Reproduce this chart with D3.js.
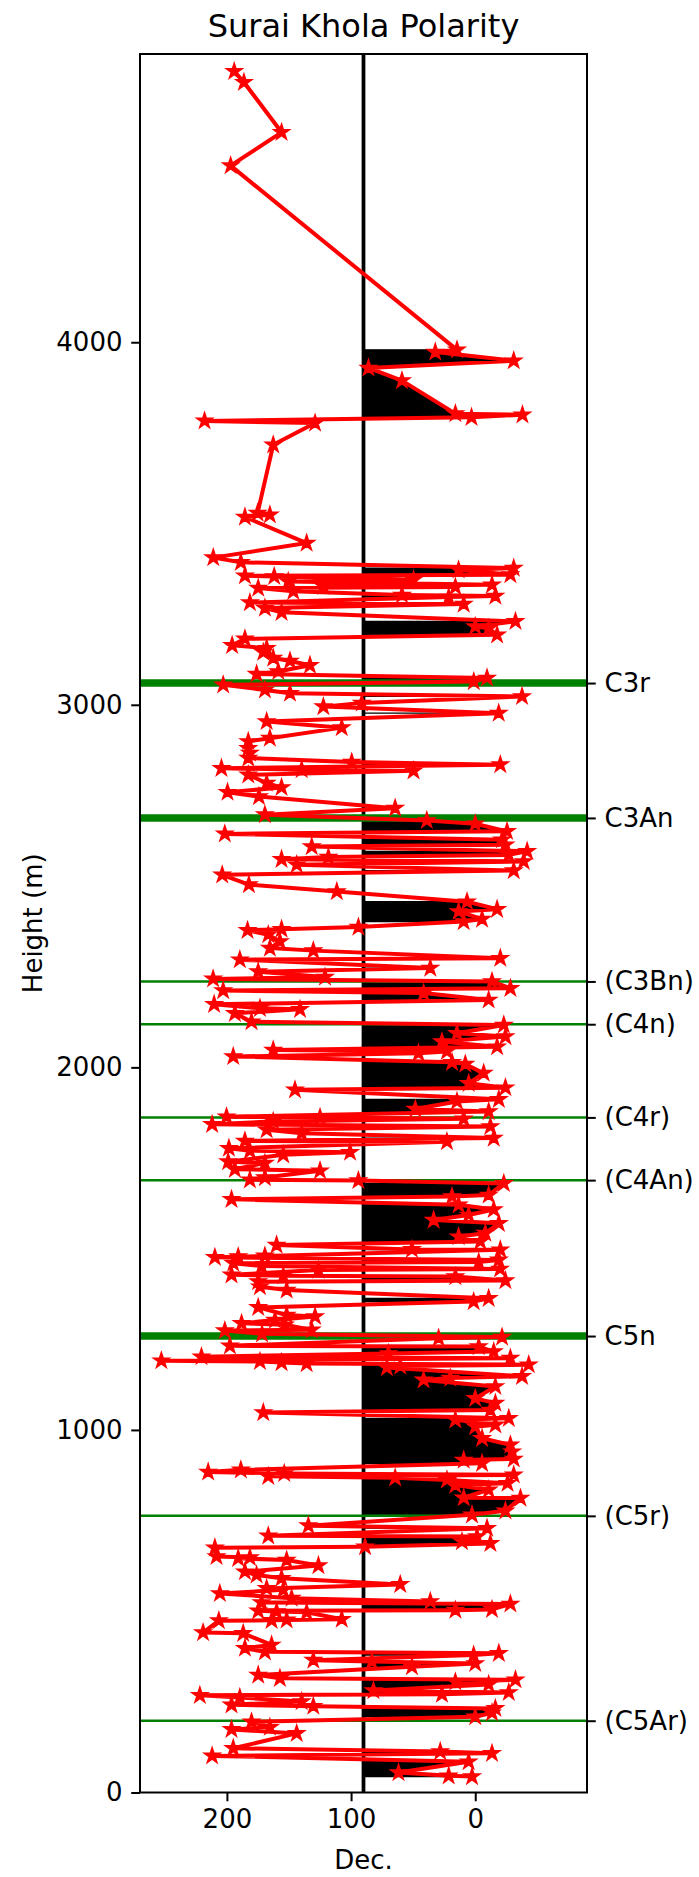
<!DOCTYPE html>
<html>
<head>
<meta charset="utf-8">
<script src="https://cdn.jsdelivr.net/npm/d3@7"></script>
<style>
  body { margin: 0; background: #fff; }
  svg { display: block; }
  text { font-family: "DejaVu Sans", sans-serif; fill: #000; }
</style>
</head>
<body>
<svg id="chart" width="699" height="1877"></svg>
<script>
// Stratigraphic height of each sample (m), bottom to top
const height = [
  44, 46, 55, 85, 101, 108, 113, 122, 163, 174, 180, 195, 209, 220, 232, 238, 242, 251, 262, 268,
  271, 276, 281, 298, 305, 311, 315, 324, 347, 356, 361, 365, 379, 384, 388, 398, 407, 439, 441, 474,
  475, 476, 478, 497, 499, 501, 503, 505, 520, 524, 527, 536, 549, 559, 563, 574, 591, 600, 609, 626,
  641, 646, 648, 651, 675, 678, 687, 692, 706, 708, 729, 736, 766, 777, 812, 813, 835, 848, 853, 862,
  868, 872, 876, 880, 884, 890, 908, 917, 920, 940, 959, 977, 1009, 1014, 1028, 1032, 1048, 1055, 1074, 1087,
  1120, 1138, 1143, 1148, 1172, 1176, 1180, 1183, 1186, 1189, 1191, 1198, 1202, 1211, 1216, 1230, 1232, 1253, 1256, 1265,
  1274, 1276, 1290, 1294, 1303, 1313, 1317, 1338, 1354, 1363, 1386, 1395, 1409, 1412, 1423, 1425, 1428, 1441, 1444, 1452,
  1460, 1463, 1469, 1476, 1478, 1480, 1497, 1498, 1510, 1520, 1533, 1543, 1570, 1579, 1593, 1608, 1621, 1636, 1644, 1648,
  1680, 1688, 1690, 1696, 1715, 1719, 1736, 1740, 1759, 1766, 1770, 1777, 1795, 1797, 1805, 1818, 1828, 1837, 1843, 1851,
  1858, 1862, 1864, 1878, 1885, 1906, 1912, 1938, 1944, 1956, 1984, 2009, 2014, 2030, 2039, 2044, 2048, 2057, 2071, 2085,
  2094, 2117, 2126, 2149, 2160, 2163, 2174, 2186, 2205, 2212, 2218, 2237, 2244, 2249, 2264, 2274, 2297, 2301, 2322, 2329,
  2347, 2366, 2378, 2381, 2387, 2402, 2409, 2430, 2436, 2457, 2485, 2504, 2531, 2543, 2559, 2568, 2574, 2580, 2586, 2596,
  2609, 2614, 2628, 2644, 2651, 2672, 2681, 2697, 2715, 2747, 2759, 2772, 2784, 2807, 2818, 2821, 2825, 2835, 2842, 2853,
  2867, 2880, 2899, 2908, 2937, 2954, 2977, 2995, 3005, 3023, 3032, 3041, 3055, 3064, 3074, 3085, 3092, 3109, 3121, 3129,
  3145, 3156, 3164, 3182, 3193, 3211, 3216, 3230, 3255, 3267, 3278, 3282, 3297, 3300, 3303, 3313, 3322, 3325, 3327, 3331,
  3340, 3345, 3354, 3356, 3359, 3372, 3377, 3393, 3406, 3446, 3518, 3524, 3529, 3717, 3777, 3783, 3793, 3800, 3803, 3894,
  3929, 3949, 3973, 3979, 4487, 4579, 4717, 4747
];

// Declination of each sample (degrees)
const dec = [
  2.6, 21.4, 61.8, 5.3, 211.9, -13.5, 28.2, 194.9, 143.8, 196.3, 165.4, 180.2, 0, -13.5, -16.2, 130.4, 196.3, 139.8, 189.6, 221.8,
  26.8, -27, 82, -10.8, 16, -32.4, 157.3, 174.8, 51, 0, 83.3, 130.4, 1.3, -19, 169.4, 185.5, 164, 186.9, 219.2, 206.5,
  164, 151.9, 107.5, 135.8, 160, 174.8, 16, -13.5, -28.3, 172.1, 36.2, 147.9, 205.7, 154.6, 168, 60.4, 156, 176.1, 185.5, 126.3,
  151.9, 190.9, 181.5, 208.4, 209.7, 88.7, -12.2, 10.7, -1.4, 166.7, -9.5, 134.4, 2.6, -24.3, -36.4, 9.3, -10.8, 16, -26, 22.8,
  64.5, 166.7, -31, 153.8, 215.1, 188.8, -5.5, 9.3, -31, -29.7, -28.3, -5.5, 0, -16.2, 16, -27, 170.7, -12.2, -16.2, 0,
  -16.2, 41.6, 20.1, -37.7, 71.2, 60.4, -43.1, 135.8, 156, 173.4, 252.8, -28.3, 220.5, 69.9, -14.9, -2.8, 197.6, 29.5, -21.6, 171.7,
  201.7, 131.7, 153.3, 188.2, 161.3, 129, 151.9, 174.8, 1.3, -10.8, 151.9, 173.4, 174.8, -24.3, 16, 154.6, 196.3, 126.3, -20, 172.1,
  194.9, -2.8, -19, 209.7, 190.9, 169.4, -20.2, 51, 160, -4.1, 13.4, -8.1, -19, 33.5, 5.3, -14.9, 13.4, 196.3, 18.7, -10.8,
  -23, 94.1, 181.5, 169.4, 125, 193.6, 169.4, 199, 154.6, 100.8, 181.5, 198.4, 22.8, 185.5, -14.9, 139.8, 168, -12.2, 211.9, 162.7,
  9.3, 125, 200.3, -10.8, 48.3, 14.7, -19, 145.2, -24.3, 5.3, -6.8, 8, 18.7, 194.9, 45.7, 22.8, 162.7, -17.6, 26.8, -24.3,
  14.7, -23, 180.2, 193.6, 141.1, 173.4, 210.3, -10.8, 41.6, 203, -28.3, -13.5, 211.1, 121, 174.8, 36.2, 189.6, -20.2, 130.4, 165.4,
  157.3, 166.7, 183.4, 156, 94.1, 9.3, -5.5, 13.4, -17.6, 6.6, 111.5, 182.3, 203.8, -31, 143.8, -39, 156, 118.3, -27, -41.8,
  131.7, -24.3, -21.6, 201.7, -25.6, 0, 39, 169.4, 64.5, 174.2, 199.5, 156, 168, 182.8, 49.7, 139.8, 204.4, -20.2, 99.5, 182.8,
  181.5, 182.8, 182.8, 165.4, 107.5, 168, -18.9, 122.3, 91.4, -37.7, 149.2, 169.4, 203, 1.2, -9.5, 176.1, 158.6, 133.1, 149.2, 162.7,
  170.7, 168, 195.8, 185.5, -17.6, -10.8, 0, -32.4, 156, 169.4, 9.3, 181.5, 21.4, -16.2, 59, 146.5, 174.8, 16, 122.3, -13.5,
  150.6, 49.7, 161.9, 185.5, -28.3, 13.4, -31, 188.8, 211, 135.8, 185.5, 165.4, 175.3, 162.7, 129, 218, 3, -38, 16, 59,
  86, -31, 32.2, 14.7, 197, 156, 186.3, 194.1
];

// Magnetochron boundaries marked on the section
const chronNames = ["(C5Ar)", "(C5r)", "C5n", "(C4An)", "(C4r)", "(C4n)", "(C3Bn)", "C3An", "C3r"];
const chronHeights = [198, 763, 1259, 1689, 1862, 2119, 2237, 2688, 3060];
const chronMajor = [false, false, true, false, false, false, false, true, true];

const xTicks = [200, 100, 0];
const yTicks = [0, 1000, 2000, 3000, 4000];
const refDec = 90;

const plot = { left: 140, right: 587, top: 54, bottom: 1792.5 };
const svg = d3.select("#chart");

const x = d3.scaleLinear().domain([270, -90]).range([plot.left, plot.right]);
const y = d3.scaleLinear().domain([0, 4795]).range([plot.bottom, plot.top]);

svg.append("defs").append("clipPath").attr("id", "plotclip")
  .append("rect")
  .attr("x", plot.left).attr("y", plot.top)
  .attr("width", plot.right - plot.left).attr("height", plot.bottom - plot.top);

const g = svg.append("g").attr("clip-path", "url(#plotclip)");

// Black fill between the reference declination and samples lying on its normal side
const samples = height.map((h, i) => ({ h, d: dec[i] }));
const runs = [];
let cur = [];
samples.forEach(p => {
  if (p.d < refDec) cur.push(p);
  else { if (cur.length) runs.push(cur); cur = []; }
});
if (cur.length) runs.push(cur);

g.selectAll("path.fill").data(runs).join("path")
  .attr("class", "fill")
  .attr("d", run => {
    const outer = run.map(p => [x(p.d), y(p.h)]);
    const inner = run.slice().reverse().map(p => [x(refDec), y(p.h)]);
    return "M" + outer.concat(inner).map(c => c.join(",")).join("L") + "Z";
  })
  .attr("fill", "#000")
  .attr("stroke", "#000")
  .attr("stroke-width", 1.2)
  .attr("stroke-linejoin", "miter");

// Reference declination line
g.append("line")
  .attr("x1", x(refDec)).attr("x2", x(refDec))
  .attr("y1", plot.top).attr("y2", plot.bottom)
  .attr("stroke", "#000").attr("stroke-width", 3.75);

// Chron boundaries
g.selectAll("line.chron").data(chronHeights).join("line")
  .attr("class", "chron")
  .attr("x1", plot.left).attr("x2", plot.right)
  .attr("y1", d => y(d)).attr("y2", d => y(d))
  .attr("stroke", "#008000")
  .attr("stroke-width", (d, i) => chronMajor[i] ? 7.5 : 2.5);

// Declination path with star markers
const line = d3.line().x(p => x(p.d)).y(p => y(p.h));
g.append("path")
  .attr("d", line(samples))
  .attr("fill", "none")
  .attr("stroke", "#ff0000")
  .attr("stroke-width", 4)
  .attr("stroke-linejoin", "round");

const star = d3.symbol().type(d3.symbolStar).size(62);
g.selectAll("path.mk").data(samples).join("path")
  .attr("class", "mk")
  .attr("transform", p => `translate(${x(p.d)},${y(p.h)})`)
  .attr("d", star)
  .attr("fill", "#ff0000")
  .attr("stroke", "#ff0000")
  .attr("stroke-width", 2)
  .attr("stroke-linejoin", "miter");

// Frame
svg.append("rect")
  .attr("x", plot.left).attr("y", plot.top)
  .attr("width", plot.right - plot.left).attr("height", plot.bottom - plot.top)
  .attr("fill", "none").attr("stroke", "#000").attr("stroke-width", 2);

// Axes
function styleAxis(sel) {
  sel.select(".domain").remove();
  sel.selectAll(".tick line").attr("stroke", "#000").attr("stroke-width", 2);
  sel.selectAll(".tick text").attr("font-size", 26).attr("font-family", "DejaVu Sans, sans-serif");
}

svg.append("g")
  .attr("transform", `translate(${plot.left},0)`)
  .call(d3.axisLeft(y).tickValues(yTicks).tickFormat(d3.format("d")).tickSize(8.75).tickPadding(8.75))
  .call(styleAxis);

svg.append("g")
  .attr("transform", `translate(0,${plot.bottom})`)
  .call(d3.axisBottom(x).tickValues(xTicks).tickFormat(d3.format("d")).tickSize(8.75).tickPadding(8.75))
  .call(styleAxis);

svg.append("g")
  .attr("transform", `translate(${plot.right},0)`)
  .call(d3.axisRight(y).tickValues(chronHeights).tickFormat((d, i) => chronNames[i]).tickSize(8.75).tickPadding(8.75))
  .call(styleAxis);

// Titles
svg.append("text")
  .attr("x", (plot.left + plot.right) / 2).attr("y", 37)
  .attr("text-anchor", "middle").attr("font-size", 32)
  .text("Surai Khola Polarity");

svg.append("text")
  .attr("x", (plot.left + plot.right) / 2).attr("y", 1869)
  .attr("text-anchor", "middle").attr("font-size", 26)
  .text("Dec.");

svg.append("text")
  .attr("transform", `translate(42,${(plot.top + plot.bottom) / 2}) rotate(-90)`)
  .attr("text-anchor", "middle").attr("font-size", 26)
  .text("Height (m)");
</script>
</body>
</html>
